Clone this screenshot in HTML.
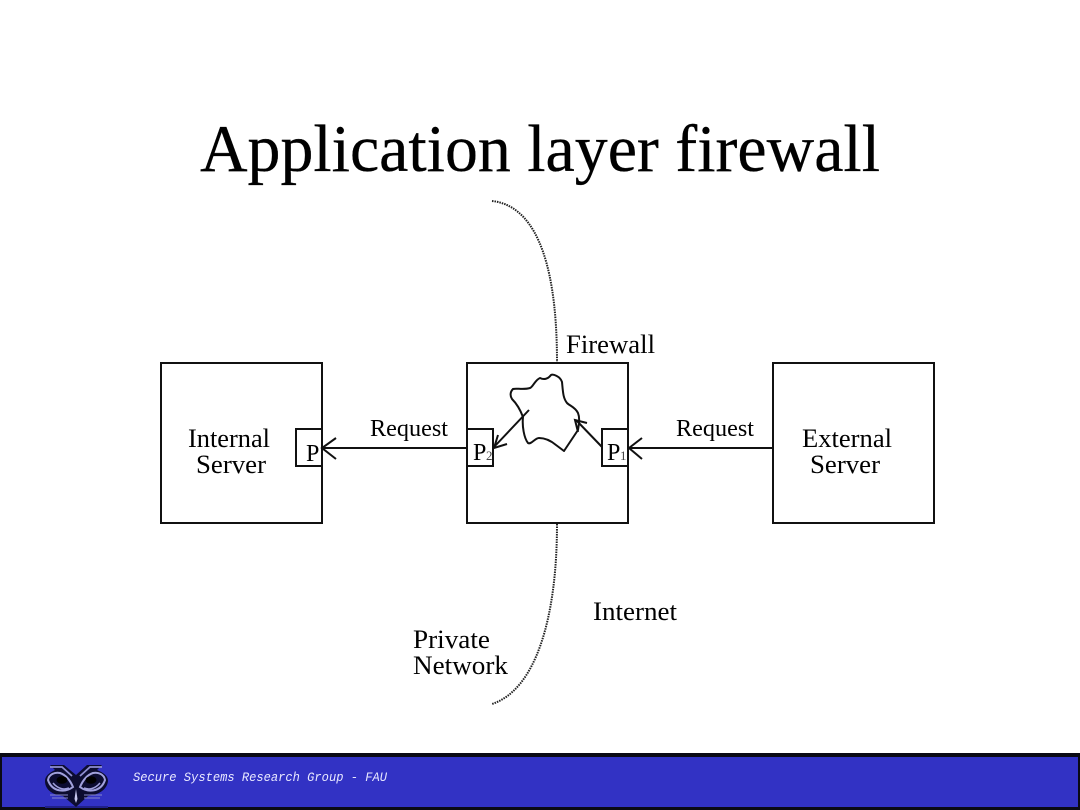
<!DOCTYPE html>
<html><head><meta charset="utf-8"><style>
html,body{margin:0;padding:0;background:#fff}
svg{display:block}
text{font-family:"Liberation Serif",serif;fill:#000}
</style></head><body>
<svg width="1080" height="810" viewBox="0 0 1080 810" xmlns="http://www.w3.org/2000/svg">
<rect width="1080" height="810" fill="#fff"/>
<text x="200" y="171" font-size="67" textLength="680" lengthAdjust="spacingAndGlyphs" stroke="#000" stroke-width="0.3">Application layer firewall</text>

<path d="M492 201C530 205 557 250 557 362" fill="none" stroke="#222" stroke-width="2" stroke-dasharray="1.5 1"/>
<path d="M557 524C557 620 535 690 492 704" fill="none" stroke="#222" stroke-width="2" stroke-dasharray="1.5 1"/>

<g fill="none" stroke="#111" stroke-width="2">
<rect x="161" y="363" width="161" height="160"/>
<rect x="467" y="363" width="161" height="160"/>
<rect x="773" y="363" width="161" height="160"/>
<rect x="296" y="429" width="26" height="37"/>
<rect x="467" y="429" width="26" height="37"/>
<rect x="602" y="429" width="26" height="37"/>
<path d="M322 448H467M629 448H773"/>
<path d="M336 438L322 448L336 459M642 438L629 448L642 459"/>
<path d="M529 410L494 447M507 444L494 448L498 435"/>
<path d="M602 447L576 420M587 423L575 420L578 432"/>
<path d="M523 417C522 426 524 438 528 443C531 445 535 438 539 438C545 438 550 440 556 445L564 451L578 430C579 424 580 418 578 413C575 407 570 406 567 403C563 398 563 392 562 382C560 376 553 374 551 375C548 379 544 380 540 378C535 380 533 387 530 388C524 390 516 388 513 389C510 392 510 396 512 399C516 403 520 409 523 417Z" stroke-linejoin="round"/>
</g>

<g font-size="26">
<text x="566" y="353" textLength="89" lengthAdjust="spacingAndGlyphs">Firewall</text>
<text x="188" y="447" textLength="82" lengthAdjust="spacingAndGlyphs">Internal</text>
<text x="196" y="473" textLength="70" lengthAdjust="spacingAndGlyphs">Server</text>
<text x="802" y="447" textLength="90" lengthAdjust="spacingAndGlyphs">External</text>
<text x="810" y="473" textLength="70" lengthAdjust="spacingAndGlyphs">Server</text>
<text x="593" y="620" textLength="84" lengthAdjust="spacingAndGlyphs">Internet</text>
<text x="413" y="648" textLength="77" lengthAdjust="spacingAndGlyphs">Private</text>
<text x="413" y="674" textLength="95" lengthAdjust="spacingAndGlyphs">Network</text>
<text x="306" y="461" font-size="24">P</text>
<text x="473" y="460" font-size="24">P</text>
<text x="486" y="460" font-size="13" style="fill:#444">2</text>
<text x="607" y="460" font-size="24">P</text>
<text x="620" y="460" font-size="13" style="fill:#444">1</text>
</g>
<text x="370" y="436" font-size="24" textLength="78" lengthAdjust="spacingAndGlyphs">Request</text>
<text x="676" y="436" font-size="24" textLength="78" lengthAdjust="spacingAndGlyphs">Request</text>

<rect x="0" y="753" width="1080" height="57" fill="#0a0a14"/>
<rect x="2" y="757" width="1076" height="50" fill="#3232c4"/>
<rect x="45" y="806" width="63" height="2" fill="#20208a"/>

<!-- owl -->
<path d="M50 765H64L76 775L87 765H102L97 770C104 773 108 776 108 781C107 790 98 795 88 796L76 807L63 796C53 795 45 790 45 781C45 776 49 773 55 770Z" fill="#0c0c30"/>
<path d="M50 767H62L72 776M102 767H90L80 776" fill="none" stroke="#8f8fd0" stroke-width="1.8"/>
<path d="M48 780C49 774 55 772 60 773C66 775 70 780 73 787C65 793 52 792 48 780Z" fill="none" stroke="#a0a0dc" stroke-width="2"/>
<path d="M105 780C104 774 98 772 93 773C87 775 83 780 80 787C88 793 101 792 105 780Z" fill="none" stroke="#a0a0dc" stroke-width="2"/>
<path d="M53 783C58 789 64 790 69 788M100 783C95 789 89 790 84 788" fill="none" stroke="#a0a0dc" stroke-width="1.5"/>
<ellipse cx="62" cy="780" rx="5.5" ry="3.8" fill="#000"/>
<ellipse cx="91" cy="780" rx="5.5" ry="3.8" fill="#000"/>
<path d="M76 789L74.5 799L76 803L77.5 799Z" fill="#c8c8f0"/>
<path d="M50 795H68M84 795H102M52 798H68M84 798H100" stroke="#8888cc" stroke-width="1"/>

<text x="133" y="781" font-size="13" font-style="italic" textLength="254" lengthAdjust="spacingAndGlyphs" style="font-family:'Liberation Mono',monospace;fill:#e8e8ff">Secure Systems Research Group - FAU</text>
</svg>
</body></html>
